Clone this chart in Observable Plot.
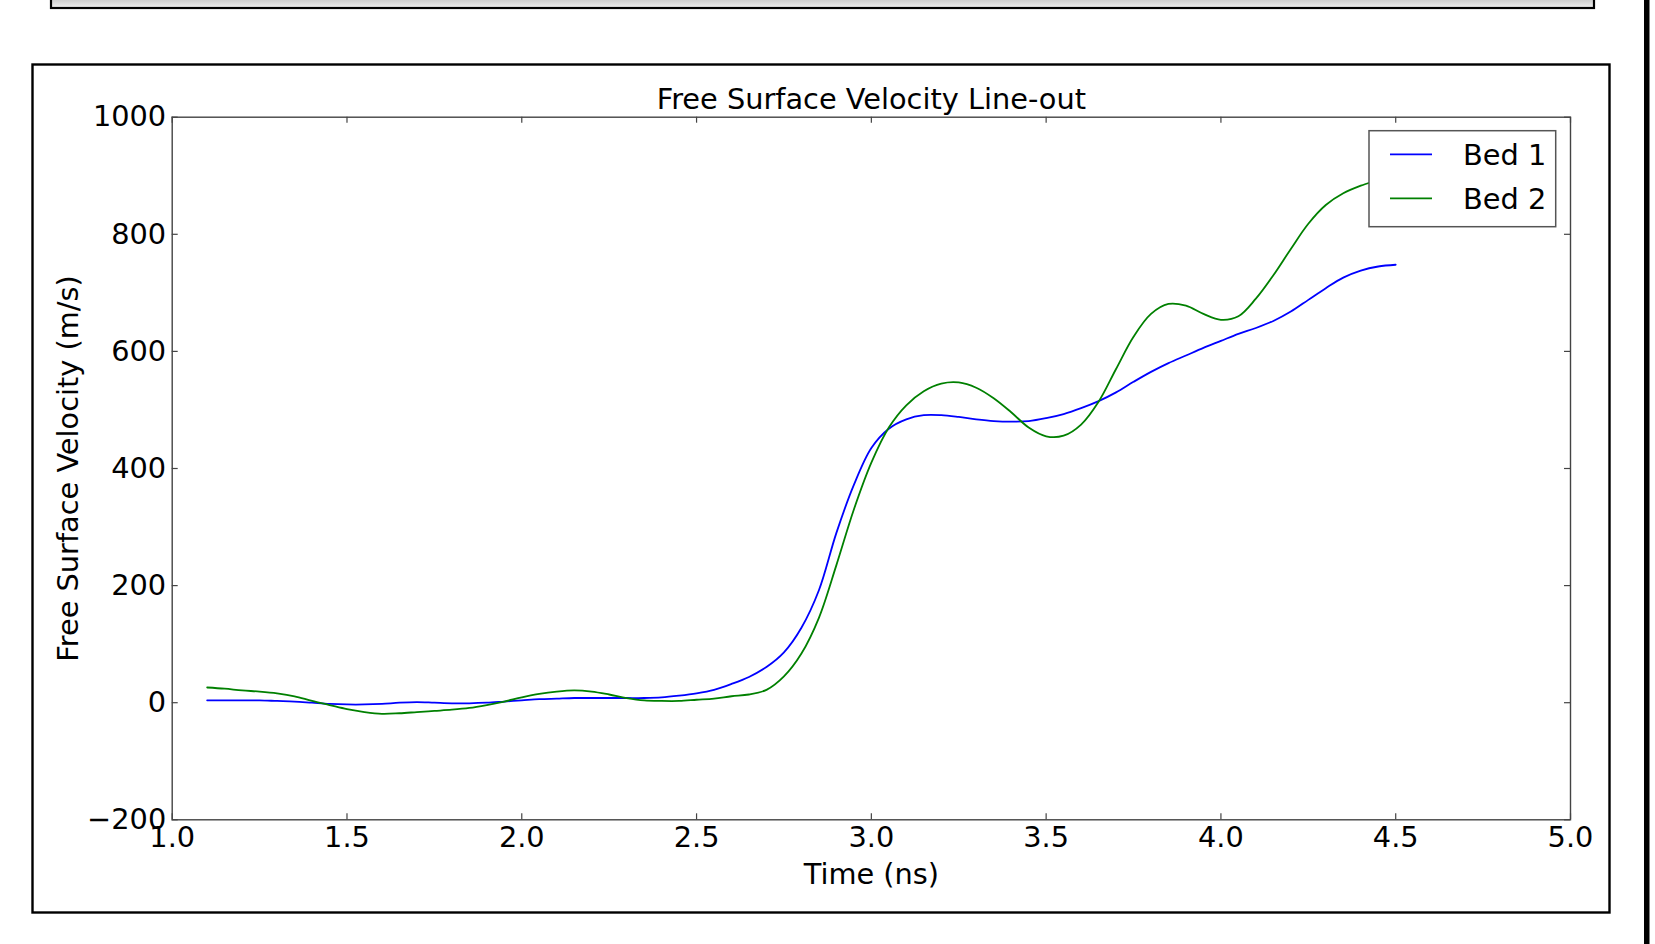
<!DOCTYPE html>
<html><head><meta charset="utf-8">
<script src="https://cdn.jsdelivr.net/npm/d3@7"></script>
<script src="https://cdn.jsdelivr.net/npm/@observablehq/plot@0.6"></script>
<style>html,body{margin:0;padding:0;background:#fff;overflow:hidden;} svg{display:block;}</style>
</head><body><div id="chart"></div>
<script>
const time = [1.10,1.15,1.20,1.25,1.30,1.35,1.40,1.45,1.50,1.55,1.60,1.65,1.70,1.75,1.80,1.85,1.90,1.95,
  2.00,2.05,2.10,2.15,2.20,2.25,2.30,2.35,2.40,2.45,2.50,2.55,2.60,2.65,2.70,2.75,2.80,2.85,2.90,2.95,
  3.00,3.05,3.10,3.15,3.20,3.25,3.30,3.35,3.40,3.45,3.50,3.55,3.60,3.65,3.70,3.75,3.80,3.85,3.90,3.95,
  4.00,4.05,4.10,4.15,4.20,4.25,4.30,4.35,4.40,4.45,4.50];
const bed1 = [4,4,4,4,3,2,0,-2,-3,-3,-2,0,1,0,-1,-1,0,2,
  4,6,7,8,8,8,8,8,9,12,16,22,32,44,61,86,128,192,290,372,
  435,468,484,491,491,488,484,481,480,481,486,493,503,515,530,548,565,580,593,606,
  618,630,640,652,668,688,708,726,738,745,748];
const bed2 = [26,24,21,19,16,11,3,-4,-11,-16,-19,-18,-16,-14,-12,-9,-4,2,
  9,15,19,21,19,14,8,4,3,3,5,7,11,14,22,45,84,145,235,330,
  410,470,508,532,545,547,538,520,496,470,455,456,475,514,570,625,664,681,678,664,
  654,660,690,730,775,818,850,870,883,893,903];
const seriesNames = ["Bed 1", "Bed 2"];
const seriesColors = ["#0000ff", "#008000"];
const xTicks = [1.0,1.5,2.0,2.5,3.0,3.5,4.0,4.5,5.0];
const yTicks = [-200,0,200,400,600,800,1000];
const titleText = "Free Surface Velocity Line-out";
const xLabel = "Time (ns)";
const yLabel = "Free Surface Velocity (m/s)";

const data = time.flatMap((t, i) => [
  {t, v: bed1[i], s: seriesNames[0]},
  {t, v: bed2[i], s: seriesNames[1]}
]);

const W = 1655, H = 944, mL = 171.7, mR = 85, mT = 116.7, mB = 124.7;
const plotH = H - mT - mB, plotW = W - mL - mR;
const fs = 28.8, tk = 6, axisColor = "#444";
const font = "'DejaVu Sans', sans-serif";

const chart = Plot.plot({
  width: W, height: H,
  marginLeft: mL, marginRight: mR, marginTop: mT, marginBottom: mB,
  style: {fontFamily: font, fontSize: fs + "px", background: "#fff", overflow: "visible", color: "#000"},
  x: {domain: [1, 5]},
  y: {domain: [-200, 1000]},
  color: {domain: seriesNames, range: seriesColors},
  marks: [
    Plot.line(data, {x: "t", y: "v", z: "s", stroke: "s", strokeWidth: 1.8, curve: "catmull-rom"}),
    Plot.frame({stroke: axisColor, strokeWidth: 1.4}),
    Plot.tickX(xTicks, {x: d => d, insetTop: plotH - tk, stroke: axisColor, strokeWidth: 1.2}),
    Plot.tickX(xTicks, {x: d => d, insetBottom: plotH - tk, stroke: axisColor, strokeWidth: 1.2}),
    Plot.tickY(yTicks, {y: d => d, insetRight: plotW - tk, stroke: axisColor, strokeWidth: 1.2}),
    Plot.tickY(yTicks, {y: d => d, insetLeft: plotW - tk, stroke: axisColor, strokeWidth: 1.2}),
    Plot.axisX({ticks: xTicks, tickSize: 0, tickPadding: 7, tickFormat: d3.format(".1f"), label: null, fill: "#000"}),
    Plot.axisY({ticks: yTicks, tickSize: 0, tickPadding: 6, tickFormat: d3.format("d"), label: null, fill: "#000"}),
    Plot.text([titleText], {frameAnchor: "top", dy: -8.2, lineAnchor: "bottom", textAnchor: "middle", fill: "#000"}),
    Plot.text([xLabel], {frameAnchor: "bottom", dy: 64, lineAnchor: "bottom", textAnchor: "middle", fill: "#000"}),
    Plot.text([yLabel], {frameAnchor: "left", dx: -94.4, rotate: -90, lineAnchor: "bottom", textAnchor: "middle", fill: "#000"})
  ]
});
document.getElementById("chart").appendChild(chart);

// decorations and legend
const svg = d3.select(chart);
const defs = svg.append("defs");
const grad = defs.append("linearGradient").attr("id", "band").attr("x1", 0).attr("y1", 0).attr("x2", 0).attr("y2", 1);
grad.append("stop").attr("offset", "0%").attr("stop-color", "#b8b8b8");
grad.append("stop").attr("offset", "60%").attr("stop-color", "#d0d0d0");
grad.append("stop").attr("offset", "100%").attr("stop-color", "#f0f0f0");
svg.append("rect").attr("x", 51).attr("y", -10).attr("width", 1543).attr("height", 18)
  .attr("fill", "url(#band)").attr("stroke", "#000").attr("stroke-width", 2.2);
svg.append("rect").attr("x", 32.5).attr("y", 64.5).attr("width", 1577).attr("height", 848)
  .attr("fill", "none").attr("stroke", "#000").attr("stroke-width", 2.4);
svg.append("rect").attr("x", 1644).attr("y", -2).attr("width", 5.5).attr("height", H + 4).attr("fill", "#000");

const lg = svg.append("g");
lg.append("rect").attr("x", 1369).attr("y", 130.7).attr("width", 186.7).attr("height", 96)
  .attr("fill", "#fff").attr("stroke", "#555").attr("stroke-width", 1.5);
seriesNames.forEach((name, i) => {
  const yy = 154.3 + i * 44;
  lg.append("line").attr("x1", 1390).attr("x2", 1432).attr("y1", yy).attr("y2", yy)
    .attr("stroke", seriesColors[i]).attr("stroke-width", 1.8);
  lg.append("text").attr("x", 1463).attr("y", yy + 10.5).text(name)
    .attr("text-anchor", "start")
    .attr("font-family", font).attr("font-size", fs).attr("fill", "#000");
});
</script>
</body></html>
